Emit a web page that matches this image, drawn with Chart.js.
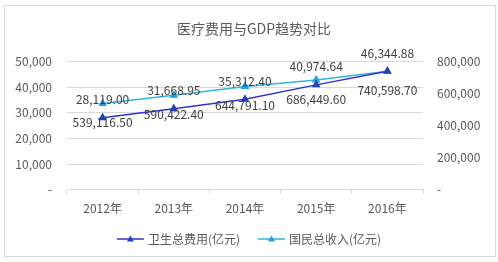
<!DOCTYPE html>
<html>
<head>
<meta charset="utf-8">
<script src="https://cdn.jsdelivr.net/npm/chart.js@4"></script>
<style>
    html, body { margin: 0; padding: 0; background: #fff; }
    #wrap { position: relative; width: 498px; height: 262px; }
    #frame {
        position: absolute; left: 4px; top: 5px; width: 490px; height: 250px;
        border: 1px solid #d9d9d9; pointer-events: none;
    }
</style>
</head>
<body>
<div id="wrap">
    <canvas id="trendChart" width="498" height="262"></canvas>
    <div id="frame"></div>
</div>
<script>
const FONT = "'Noto Sans CJK SC', 'Noto Sans', sans-serif";

const years = ["2012年", "2013年", "2014年", "2015年", "2016年"];
const healthSpend = [28119.00, 31668.95, 35312.40, 40974.64, 46344.88];
const nationalIncome = [539116.50, 590422.40, 644791.10, 686449.60, 740598.70];
const seriesNames = ["卫生总费用(亿元)", "国民总收入(亿元)"];

const fmt2 = (v) => v.toLocaleString("en-US", { minimumFractionDigits: 2, maximumFractionDigits: 2 });
const fmtTick = (v) => (v === 0 ? "-" : v.toLocaleString("en-US"));

// value labels: first series above its point, second below
const valueLabels = {
    id: "valueLabels",
    afterDatasetsDraw(chart) {
        const ctx = chart.ctx;
        ctx.save();
        ctx.font = "12px " + FONT;
        ctx.fillStyle = "#404040";
        ctx.textAlign = "center";
        ctx.textBaseline = "middle";
        chart.data.datasets.forEach((ds, i) => {
            const meta = chart.getDatasetMeta(i);
            meta.data.forEach((pt, j) => {
                const dy = i === 0 ? -18 : 19;
                ctx.fillText(fmt2(ds.data[j]), pt.x, pt.y + dy);
            });
        });
        ctx.restore();
    },
};

// excel-like legend: short line with marker in the middle
const lineLegend = {
    id: "lineLegend",
    afterDraw(chart) {
        const ctx = chart.ctx;
        const y = 239;
        ctx.save();
        ctx.font = "12px " + FONT;
        ctx.textBaseline = "middle";
        const items = chart.data.datasets.map((ds) => ({
            ds,
            w: 27 + 4 + ctx.measureText(ds.label).width,
        }));
        const gap = 18;
        let total = items.reduce((s, it) => s + it.w, 0) + gap * (items.length - 1);
        let x = 249 - total / 2;
        items.forEach((it) => {
            ctx.strokeStyle = it.ds.borderColor;
            ctx.lineWidth = 1.5;
            ctx.beginPath();
            ctx.moveTo(x, y);
            ctx.lineTo(x + 27, y);
            ctx.stroke();
            const cx = x + 13.5;
            ctx.fillStyle = it.ds.pointBackgroundColor;
            ctx.beginPath();
            ctx.moveTo(cx, y - 3.5);
            ctx.lineTo(cx + 3.5, y + 2.5);
            ctx.lineTo(cx - 3.5, y + 2.5);
            ctx.closePath();
            ctx.fill();
            ctx.fillStyle = "#595959";
            ctx.fillText(it.ds.label, x + 31, y);
            x += it.w + gap;
        });
        ctx.restore();
    },
};

new Chart(document.getElementById("trendChart"), {
    type: "line",
    data: {
        labels: years,
        datasets: [
            {
                label: seriesNames[0],
                data: healthSpend,
                yAxisID: "yLeft",
                borderColor: "#3232c8",
                backgroundColor: "#3232c8",
                pointBackgroundColor: "#2140c0",
                pointBorderColor: "#2140c0",
                pointStyle: "triangle",
                pointRadius: 3.5,
                borderWidth: 1.5,
                tension: 0,
            },
            {
                label: seriesNames[1],
                data: nationalIncome,
                yAxisID: "yRight",
                borderColor: "#33b2e6",
                backgroundColor: "#33b2e6",
                pointBackgroundColor: "#1fa0dd",
                pointBorderColor: "#1fa0dd",
                pointStyle: "triangle",
                pointRadius: 3.5,
                borderWidth: 1.5,
                tension: 0,
            },
        ],
    },
    options: {
        responsive: false,
        animation: false,
        layout: { padding: { left: 10, right: 0, top: 0, bottom: 38 } },
        plugins: {
            legend: { display: false },
            tooltip: { enabled: false },
            title: {
                display: true,
                text: "医疗费用与GDP趋势对比",
                color: "#595959",
                font: { family: FONT, size: 14, weight: "normal" },
                padding: { top: 20, bottom: 25 },
            },
        },
        scales: {
            x: {
                offset: true,
                grid: {
                    offset: true,
                    drawOnChartArea: false,
                    drawTicks: true,
                    tickLength: 4,
                    color: "#d9d9d9",
                },
                border: { display: true, color: "#d9d9d9" },
                ticks: {
                    color: "#595959",
                    font: { family: FONT, size: 12 },
                    padding: 8,
                    maxRotation: 0,
                },
            },
            yLeft: {
                position: "left",
                min: 0,
                max: 50000,
                afterFit: (s) => { s.width = 57; },
                ticks: {
                    stepSize: 10000,
                    color: "#595959",
                    font: { family: FONT, size: 12 },
                    padding: 15,
                    callback: fmtTick,
                },
                grid: { color: "#d9d9d9", drawTicks: false },
                border: { display: false },
            },
            yRight: {
                position: "right",
                min: 0,
                max: 800000,
                afterFit: (s) => { s.width = 75; },
                ticks: {
                    stepSize: 200000,
                    color: "#595959",
                    font: { family: FONT, size: 12 },
                    padding: 14,
                    callback: fmtTick,
                },
                grid: { drawOnChartArea: false, drawTicks: false },
                border: { display: false },
            },
        },
    },
    plugins: [valueLabels, lineLegend],
});
</script>
</body>
</html>
